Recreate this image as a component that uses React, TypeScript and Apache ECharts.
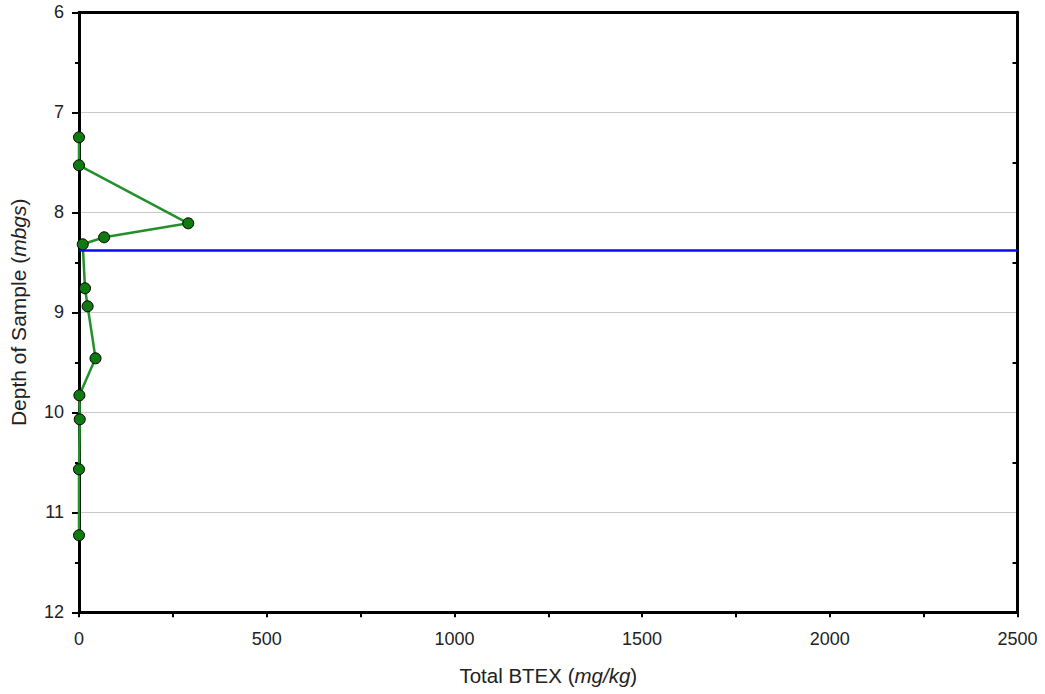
import React, { useEffect, useRef } from "react";
import * as echarts from "echarts";

const btex = [0, 0, 291, 67, 10, 16, 23, 44, 1, 2, 0, 0];
const depths = [7.25, 7.53, 8.11, 8.25, 8.32, 8.76, 8.94, 9.46, 9.83, 10.07, 10.57, 11.23];
const waterTableDepth = 8.38;
const xRange = [0, 2500];
const yRange = [6, 12];

const FONT = "'Liberation Sans', Arial, Helvetica, sans-serif";

export default function App() {
  const ref = useRef<HTMLDivElement>(null);
  useEffect(() => {
    if (!ref.current) return;
    const chart = echarts.init(ref.current, null, { renderer: "svg" });
    const data = btex.map((v, i) => [v, depths[i]]);
    const axisLine = { show: true, onZero: false, lineStyle: { color: "#000", width: 3 } };
    chart.setOption({
      animation: false,
      backgroundColor: "#fff",
      grid: { left: 79, right: 27.5, top: 12.3, bottom: 81.7, containLabel: false },
      xAxis: [
        {
          type: "value",
          position: "bottom",
          min: xRange[0],
          max: xRange[1],
          interval: 500,
          axisLine,
          axisTick: { show: true, length: 5, lineStyle: { color: "#000", width: 2 } },
          minorTick: { show: true, splitNumber: 2, length: 5, lineStyle: { color: "#000", width: 2 } },
          splitLine: { show: false },
          axisLabel: {
            color: "#222",
            fontSize: 18,
            fontFamily: FONT,
            margin: 18,
            formatter: (v: number) => String(v),
          },
          name: "Total BTEX ({i|mg/kg})",
          nameLocation: "middle",
          nameGap: 53,
          nameTextStyle: {
            color: "#222",
            fontSize: 20.5,
            fontFamily: FONT,
            rich: { i: { fontStyle: "italic", fontSize: 20.5, fontFamily: FONT, color: "#222" } },
          },
        },
        {
          type: "value",
          position: "top",
          min: xRange[0],
          max: xRange[1],
          interval: 500,
          axisLine,
          axisTick: { show: false },
          axisLabel: { show: false },
          splitLine: { show: false },
        },
      ],
      yAxis: [
        {
          type: "value",
          position: "left",
          inverse: true,
          min: yRange[0],
          max: yRange[1],
          interval: 1,
          axisLine,
          axisTick: { show: true, length: 7, lineStyle: { color: "#000", width: 2 } },
          minorTick: { show: true, splitNumber: 2, length: 4, lineStyle: { color: "#000", width: 2 } },
          splitLine: { show: true, lineStyle: { color: "#c8c8c8", width: 1 } },
          axisLabel: {
            color: "#222",
            fontSize: 18,
            fontFamily: FONT,
            margin: 15,
            formatter: (v: number) => String(v),
          },
          name: "Depth of Sample ({i|mbgs})",
          nameLocation: "middle",
          nameGap: 50,
          nameTextStyle: {
            color: "#222",
            fontSize: 21,
            fontFamily: FONT,
            rich: { i: { fontStyle: "italic", fontSize: 21, fontFamily: FONT, color: "#222" } },
          },
        },
        {
          type: "value",
          position: "right",
          inverse: true,
          min: yRange[0],
          max: yRange[1],
          interval: 1,
          axisLine,
          axisTick: { show: true, inside: true, length: 0.01, lineStyle: { color: "#000", width: 2 } },
          minorTick: { show: true, splitNumber: 2, length: 5, lineStyle: { color: "#000", width: 2 } },
          axisLabel: { show: false },
          splitLine: { show: false },
        },
      ],
      series: [
        {
          type: "line",
          data,
          xAxisIndex: 0,
          yAxisIndex: 0,
          symbol: "circle",
          symbolSize: 11,
          lineStyle: { color: "#23912a", width: 2.5 },
          itemStyle: { color: "#0f7a12", borderColor: "#000", borderWidth: 1 },
          markLine: {
            silent: true,
            symbol: ["none", "none"],
            label: { show: false },
            lineStyle: { color: "#0a0af0", width: 2.5, type: "solid" },
            data: [{ yAxis: waterTableDepth }],
          },
        },
      ],
    });
    return () => chart.dispose();
  }, []);
  return (
    <div
      ref={ref}
      style={{ position: "absolute", left: 0, top: 0, width: 1045, height: 694, background: "#fff" }}
    />
  );
}
